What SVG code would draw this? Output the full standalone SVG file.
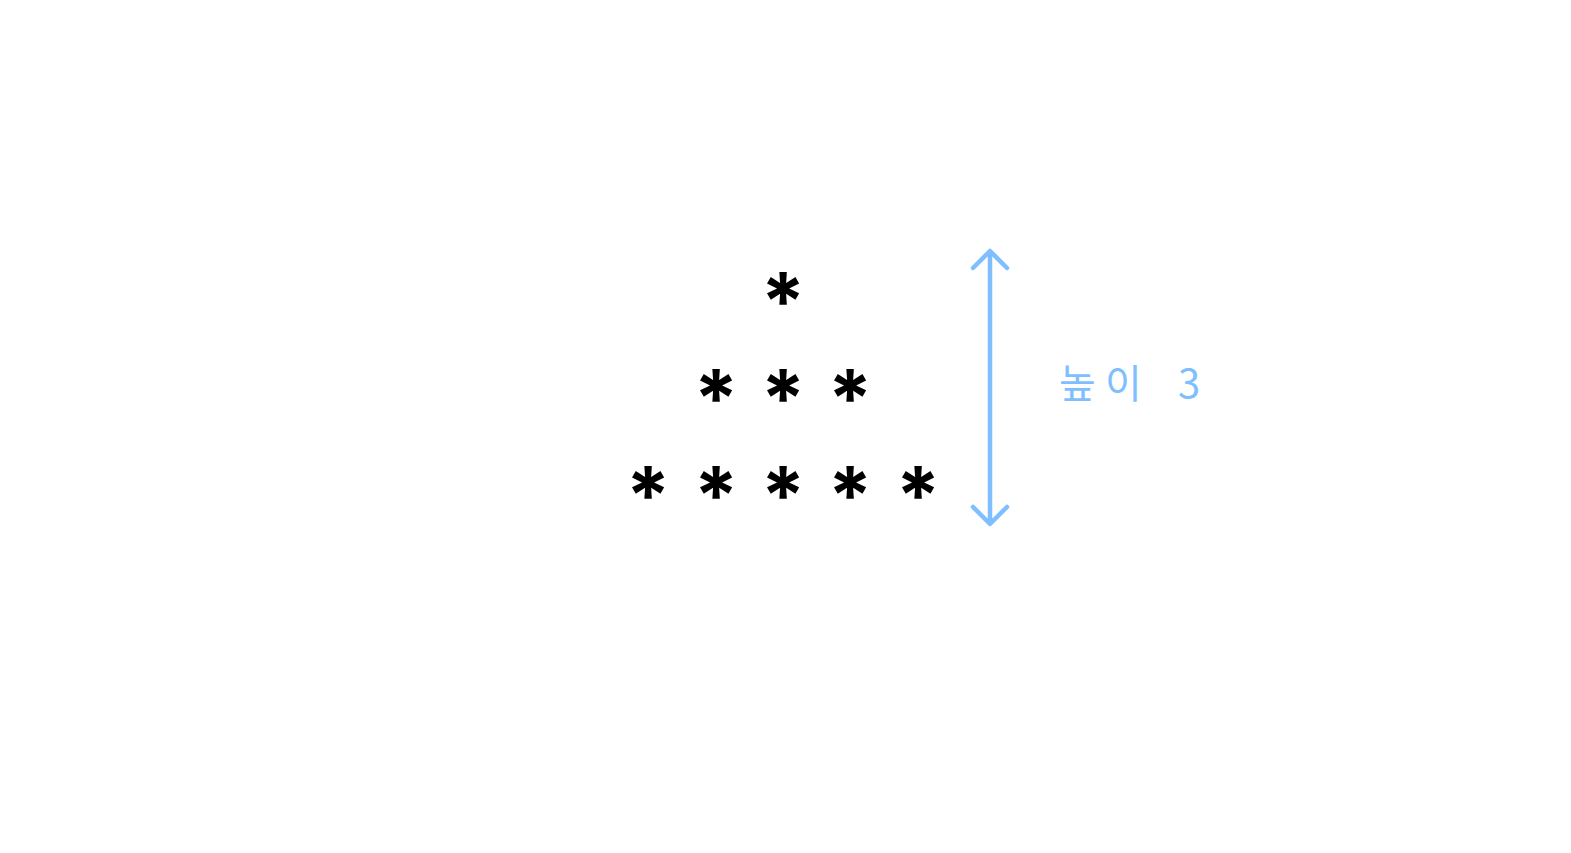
<svg xmlns="http://www.w3.org/2000/svg" width="1571" height="853" viewBox="0 0 1571 853">
<style>
.star{font-family:Inter,"DejaVu Sans",sans-serif;font-weight:700;font-size:80px;fill:#000;text-anchor:middle}
.lbl{font-family:"Noto Sans CJK KR","Noto Sans",sans-serif;font-size:40px;fill:#7fbfff}
.arr{stroke:#7fbfff;stroke-width:4.5;fill:none;stroke-linecap:round;stroke-linejoin:round}
</style>
<rect width="1571" height="853" fill="#fff"/>
<g id="row1"><text class="star" x="783" y="330">*</text></g>
<g id="row2"><text class="star" x="716" y="427">*</text><text class="star" x="783" y="427">*</text><text class="star" x="850" y="427">*</text></g>
<g id="row3"><text class="star" x="648" y="524">*</text><text class="star" x="716" y="524">*</text><text class="star" x="783" y="524">*</text><text class="star" x="850" y="524">*</text><text class="star" x="918" y="524">*</text></g>
<g id="connectors"><path class="arr" d="M990 252V523M973 268L990 251L1007 268M973 507L990 524L1007 507"/></g>
<g id="label"><text class="lbl" y="398"><tspan x="1059">높</tspan><tspan x="1105">이</tspan><tspan x="1178">3</tspan></text></g>
</svg>
